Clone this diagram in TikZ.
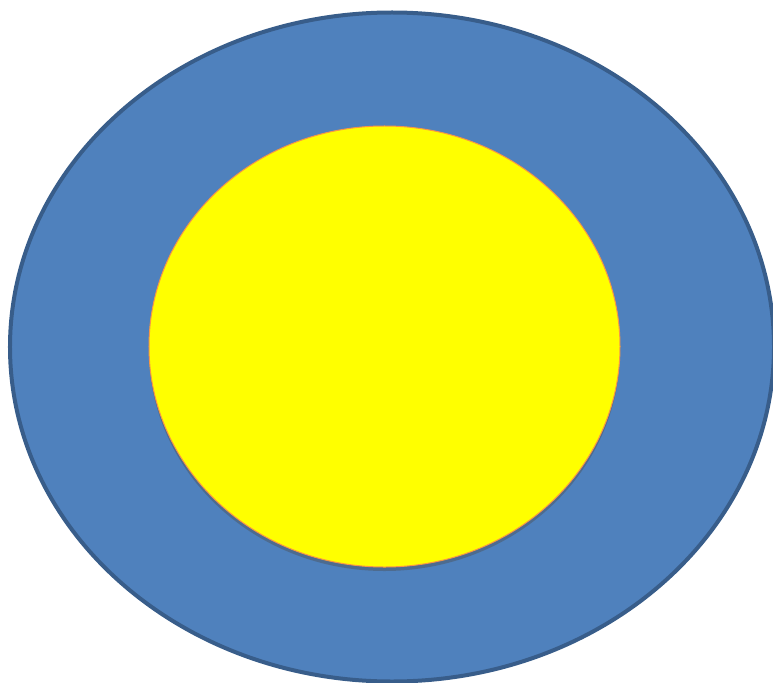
\documentclass[tikz,border=0pt]{standalone}
\usepackage{tikz}
\usetikzlibrary{shapes.geometric, shadows}
\definecolor{ringblue}{RGB}{79, 129, 189}
\definecolor{ringedge}{RGB}{56, 93, 138}
\definecolor{coreyellow}{RGB}{255, 255, 0}
\definecolor{coreedge}{RGB}{247, 150, 70}

\begin{document}
\begin{tikzpicture}[
    x=0.5mm, y=-0.5mm,
    outer/.style={ellipse, draw=ringedge, fill=ringblue, line width=2mm, minimum width=382mm, minimum height=334.5mm, inner sep=0pt},
    inner/.style={ellipse, draw=coreedge, fill=coreyellow, line width=0.5mm, minimum width=235.5mm, minimum height=220.5mm, inner sep=0pt,
        drop shadow={shadow xshift=0mm, shadow yshift=-2mm, opacity=0.4, fill=black!70}}
]

% === Marco ===
\useasboundingbox (0, 0) rectangle (773, 683);

% === Elipse exterior ===
\node[outer] (ring) at (392, 347) {};

% === Elipse interior ===
\node[inner] (core) at (384.5, 346.5) {};

\end{tikzpicture}
\end{document}
